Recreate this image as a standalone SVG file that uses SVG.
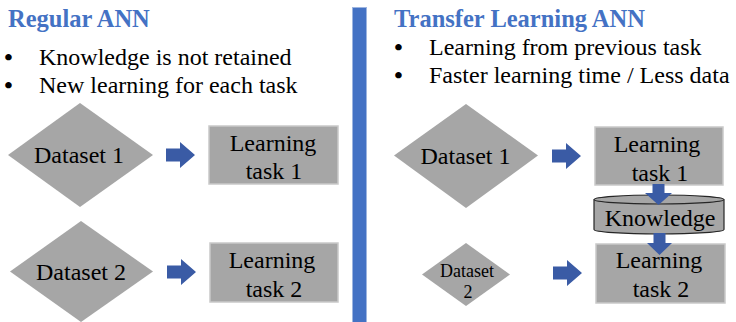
<svg xmlns="http://www.w3.org/2000/svg" width="736" height="322" viewBox="0 0 736 322">
<style>
text{font-family:"Liberation Serif","Times New Roman",serif;fill:#000}
.title{font-size:24.5px;font-weight:bold;fill:#4472C4}
.body{font-size:24px}
.bul{font-size:24px;text-anchor:middle;font-weight:bold}
.lbl{font-size:24px;text-anchor:middle}
.sm{font-size:18px;text-anchor:middle}
.dia{fill:#A6A6A6}
.box{fill:#A6A6A6;stroke:#C9C9C9;stroke-width:1.5}
.arr{fill:#3A5BA5}
</style>
<rect x="352.5" y="7.5" width="14" height="316" fill="#4472C4" stroke="#9DB5E0" stroke-width="1"/>
<g id="left-header">
<text class="title" x="8" y="26.5">Regular ANN</text>
<text class="bul" x="8.5" y="65">•</text>
<text class="body" x="39" y="65">Knowledge is not retained</text>
<text class="bul" x="8.5" y="93">•</text>
<text class="body" x="39" y="93">New learning for each task</text>
</g>
<g id="right-header">
<text class="title" x="394" y="26.5">Transfer Learning ANN</text>
<text class="bul" x="398.5" y="55">•</text>
<text class="body" x="429" y="55">Learning from previous task</text>
<text class="bul" x="398.5" y="83">•</text>
<text class="body" x="429" y="83">Faster learning time / Less data</text>
</g>
<g id="l-dataset1"><polygon class="dia" points="8,155 80,103 153,155 80,207"/><text class="lbl" x="79" y="163">Dataset 1</text></g>
<g id="l-task1"><rect class="box" x="209" y="126" width="129" height="58"/><text class="lbl" x="273" y="151">Learning</text><text class="lbl" x="274" y="179">task 1</text></g>
<g id="l-dataset2"><polygon class="dia" points="10,271.5 81,221 153,271.5 81,322"/><text class="lbl" x="81" y="280">Dataset 2</text></g>
<g id="l-task2"><rect class="box" x="210" y="243" width="128" height="59"/><text class="lbl" x="272" y="268">Learning</text><text class="lbl" x="274" y="297">task 2</text></g>
<g id="r-dataset1"><polygon class="dia" points="394,155.5 466,104 538,155.5 466,208"/><text class="lbl" x="465.5" y="164">Dataset 1</text></g>
<g id="r-task1"><rect class="box" x="595" y="127" width="128" height="58"/><text class="lbl" x="657" y="152">Learning</text><text class="lbl" x="660" y="181">task 1</text></g>
<g id="r-knowledge">
<path d="M594,199.5 V229.5 A65,4.5 0 0 0 724,229.5 V199.5" fill="#A6A6A6" stroke="#262626" stroke-width="1.2"/>
<ellipse cx="659" cy="199.5" rx="65" ry="4.5" fill="#A6A6A6" stroke="#262626" stroke-width="1.2"/>
<text class="lbl" x="660" y="226">Knowledge</text>
</g>
<g id="r-dataset2"><polygon class="dia" points="422,274.5 466,243 510,274.5 466,306"/><text class="sm" x="467" y="277">Dataset</text><text class="sm" x="468" y="298">2</text></g>
<g id="r-task2"><rect class="box" x="596" y="244" width="129" height="59"/><text class="lbl" x="659" y="268">Learning</text><text class="lbl" x="661" y="297">task 2</text></g>
<g id="connectors">
<polygon class="arr" points="166,148.5 180,148.5 180,142 195,155 180,168 180,161.5 166,161.5"/>
<polygon class="arr" points="167,265.5 181,265.5 181,259 196,272 181,285 181,278.5 167,278.5"/>
<polygon class="arr" points="552,149.5 566,149.5 566,143 581,156 566,169 566,162.5 552,162.5"/>
<polygon class="arr" points="553,266.5 567,266.5 567,260 582,273 567,286 567,279.5 553,279.5"/>
<polygon class="arr" points="652.5,184 664.5,184 664.5,193 672,193 658.5,205 645,193 652.5,193"/>
<polygon class="arr" points="653.5,233 665.5,233 665.5,243 672,243 659.5,255 647,243 653.5,243"/>
</g>
</svg>
